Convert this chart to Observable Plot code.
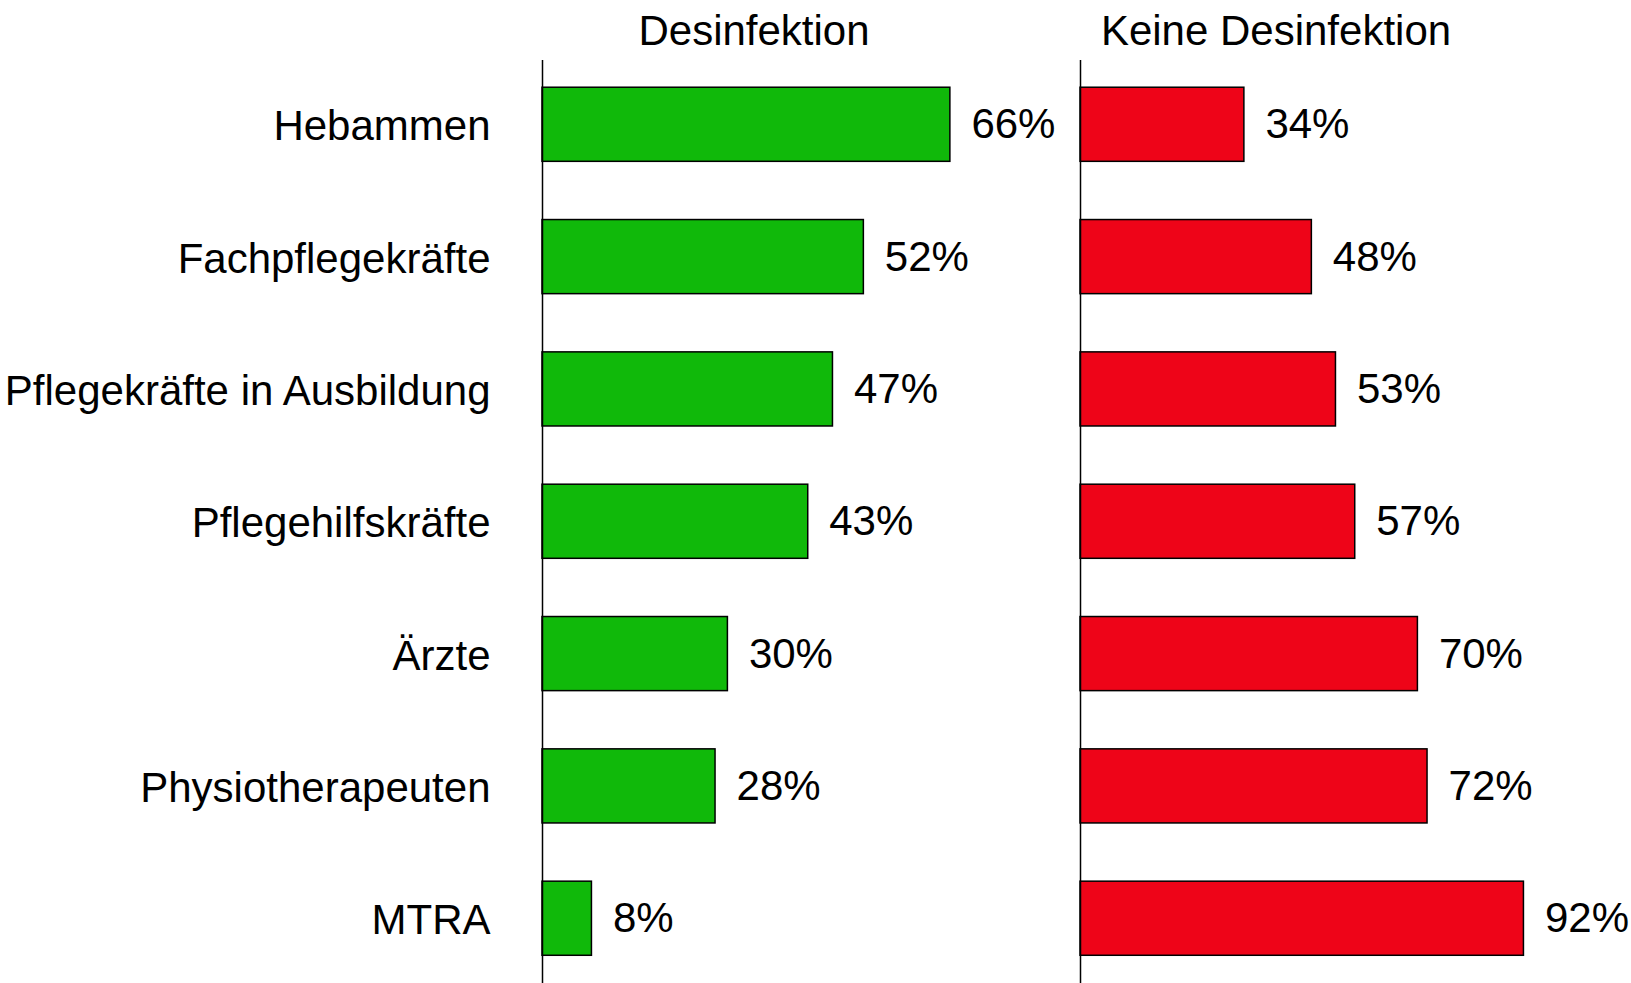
<!DOCTYPE html>
<html>
<head>
<meta charset="utf-8">
<script src="https://cdn.jsdelivr.net/npm/d3@7"></script>
<script src="https://cdn.jsdelivr.net/npm/@observablehq/plot@0.6"></script>
<style>
  html, body { margin: 0; padding: 0; background: #fff; }
  #chart { display: flex; flex-direction: row; width: 1631px; height: 983px; }
  svg { display: block; overflow: visible; }
</style>
</head>
<body>
<div id="chart"></div>
<script>
const categories = ["Hebammen", "Fachpflegekräfte", "Pflegekräfte in Ausbildung", "Pflegehilfskräfte", "Ärzte", "Physiotherapeuten", "MTRA"];
const desinfektion = [66, 52, 47, 43, 30, 28, 8];
const keineDesinfektion = [34, 48, 53, 57, 70, 72, 92];
const panelTitles = ["Desinfektion", "Keine Desinfektion"];

const font = "'Liberation Sans', Arial, sans-serif";
const green = "#10b90a";
const red = "#ee0418";

const leftData = categories.map((c, i) => ({category: c, value: desinfektion[i]}));
const rightData = categories.map((c, i) => ({category: c, value: keineDesinfektion[i]}));

const yOpts = {domain: categories, range: [29, 1013.5], padding: 0.44, align: 0.5, round: false};

const left = Plot.plot({
  width: 1079, height: 983,
  marginLeft: 542, marginRight: 0, marginTop: 60, marginBottom: 0,
  style: {fontFamily: font, fontSize: "42px", color: "#000", background: "transparent", overflow: "visible"},
  x: {domain: [0, 100], range: [542, 1160], axis: null},
  y: {...yOpts, axis: null},
  marks: [
    Plot.axisY({tickSize: 0, tickPadding: 52, dy: 2, fontSize: 42, label: null, textAnchor: "end"}),
    Plot.barX(leftData, {x: "value", y: "category", fill: green, stroke: "#000", strokeWidth: 1.5}),
    Plot.text(leftData, {x: "value", y: "category", text: d => d.value + "%", textAnchor: "start", dx: 21, fontSize: 42, fill: "#000"}),
    Plot.ruleX([0], {stroke: "#000", strokeWidth: 1.5}),
    Plot.text([panelTitles[0]], {frameAnchor: "top", dy: -29, dx: -57, fontSize: 42, fill: "#000", lineAnchor: "middle"})
  ]
});

const right = Plot.plot({
  width: 552, height: 983,
  marginLeft: 1, marginRight: 0, marginTop: 60, marginBottom: 0,
  style: {fontFamily: font, fontSize: "42px", color: "#000", background: "transparent", overflow: "visible"},
  x: {domain: [0, 100], range: [1, 483], axis: null},
  y: {...yOpts, axis: null},
  marks: [
    Plot.barX(rightData, {x: "value", y: "category", fill: red, stroke: "#000", strokeWidth: 1.5}),
    Plot.text(rightData, {x: "value", y: "category", text: d => d.value + "%", textAnchor: "start", dx: 21, fontSize: 42, fill: "#000"}),
    Plot.ruleX([0], {stroke: "#000", strokeWidth: 1.5}),
    Plot.text([panelTitles[1]], {frameAnchor: "top", dy: -29, dx: -80, fontSize: 42, fill: "#000", lineAnchor: "middle"})
  ]
});

document.getElementById("chart").append(left, right);
</script>
</body>
</html>
